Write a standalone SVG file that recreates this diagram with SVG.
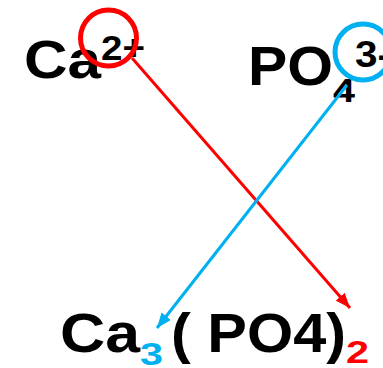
<svg xmlns="http://www.w3.org/2000/svg" width="383" height="368" viewBox="0 0 383 368">
<style>
.t{font-family:"Liberation Sans",Arial,sans-serif;font-weight:bold;fill:#000}
.red{fill:#ff0000}
.blue{fill:#00b0f0}
.ring{fill:none;stroke-width:5}
.conn{fill:none;stroke-width:3}
</style>
<defs>
<marker id="ah-red" viewBox="0 0 10 8" refX="10" refY="4" markerWidth="5" markerHeight="4" orient="auto" markerUnits="strokeWidth">
<path d="M0,0 L10,4 L0,8 z" fill="#ff0000"/>
</marker>
<marker id="ah-blue" viewBox="0 0 10 8" refX="10" refY="4" markerWidth="5" markerHeight="4" orient="auto" markerUnits="strokeWidth">
<path d="M0,0 L10,4 L0,8 z" fill="#00b0f0"/>
</marker>
</defs>
<rect width="383" height="368" fill="#fff"/>
<g id="calcium">
<text class="t" x="24" y="78" font-size="54" textLength="77" lengthAdjust="spacingAndGlyphs">Ca</text>
<text class="t" x="101" y="60" font-size="35" textLength="44" lengthAdjust="spacingAndGlyphs">2+</text>
<circle class="ring" cx="108.5" cy="38" r="28" stroke="#ff0000"/>
</g>
<g id="phosphate">
<text class="t" x="248" y="85" font-size="56" textLength="85" lengthAdjust="spacingAndGlyphs">PO</text>
<text class="t" x="333" y="102" font-size="34" textLength="22" lengthAdjust="spacingAndGlyphs">4</text>
<text class="t" x="355" y="67" font-size="37" textLength="36" lengthAdjust="spacingAndGlyphs">3-</text>
<circle class="ring" cx="363" cy="52" r="28" stroke="#00b0f0"/>
</g>
<g id="product">
<text class="t" x="60" y="352" font-size="55" textLength="80" lengthAdjust="spacingAndGlyphs">Ca</text>
<text class="t blue" x="140" y="365" font-size="32" textLength="23" lengthAdjust="spacingAndGlyphs">3</text>
<text class="t" x="171" y="352" font-size="55" textLength="175" lengthAdjust="spacingAndGlyphs">( PO4)</text>
<text class="t red" x="346" y="363" font-size="32" textLength="23" lengthAdjust="spacingAndGlyphs">2</text>
</g>
<g id="connectors">
<line class="conn" x1="132" y1="58" x2="350" y2="308" stroke="#ff0000" marker-end="url(#ah-red)"/>
<line class="conn" x1="347" y1="85" x2="157" y2="328" stroke="#00b0f0" marker-end="url(#ah-blue)"/>
</g>
</svg>
